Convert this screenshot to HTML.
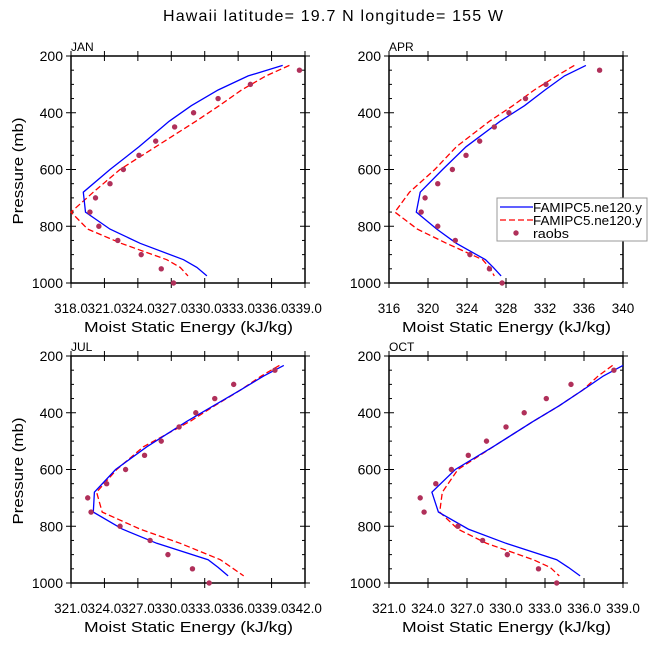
<!DOCTYPE html>
<html><head><meta charset="utf-8"><style>
body{margin:0;background:#fff;}
svg text{font-family:"Liberation Sans",sans-serif;fill:#000;}
</style></head><body>
<svg id="fig" width="648" height="649" viewBox="0 0 648 649" xmlns="http://www.w3.org/2000/svg">
<text x="163" y="21" font-size="16" textLength="340" lengthAdjust="spacing">Hawaii   latitude=  19.7 N  longitude=  155 W</text>
</svg>
<script>
const modelP=[233,270,320,375,430,520,600,680,750,810,860,918,945,975];
const obsP=[250,300,350,400,450,500,550,600,650,700,750,800,850,900,950,1000];
const yTicks=[200,400,600,800,1000];
const janBlue=[337.0,333.9,331.2,328.8,326.8,324.1,321.5,319.1,319.3,321.5,324.2,328.1,329.3,330.2];
const janRed=[337.6,335.5,333.3,331.3,329.2,325.6,322.4,320.0,318.0,319.5,322.5,326.6,327.8,328.5];
const janObs=[338.5,334.1,331.2,329.0,327.3,325.6,324.1,322.7,321.5,320.2,319.7,320.5,322.2,324.3,326.1,327.2];
const janTicks=["318.0","321.0","324.0","327.0","330.0","333.0","336.0","339.0"];
const aprBlue=[336.2,334.0,332.0,329.9,327.4,323.9,321.5,319.2,318.8,320.9,322.9,325.9,326.7,327.5];
const aprRed=[335.0,333.2,330.9,328.7,326.3,322.9,320.7,318.1,316.6,318.9,321.9,325.6,326.3,326.8];
const aprObs=[337.6,332.1,330.0,328.3,326.8,325.3,323.9,322.5,321.0,319.7,319.3,321.0,322.8,324.3,326.3,327.6];
const aprTicks=["316","320","324","328","332","336","340"];
const julBlue=[340.1,338.3,336.2,333.8,331.4,327.8,325.0,323.1,323.0,325.6,328.7,333.3,334.2,335.1];
const julRed=[339.7,338.1,336.2,333.9,331.7,327.5,325.1,323.3,323.8,327.2,330.8,334.4,335.4,336.5];
const julObs=[339.3,335.6,333.9,332.2,330.7,329.1,327.6,325.9,324.2,322.5,322.8,325.4,328.1,329.7,331.9,333.4];
const julTicks=["321.0","324.0","327.0","330.0","333.0","336.0","339.0","342.0"];
const octBlue=[339.0,337.5,335.9,334.1,332.1,329.0,326.1,324.3,324.8,327.1,330.0,333.9,334.8,335.7];
const octRed=[338.2,337.1,335.9,334.1,332.1,329.0,326.3,325.1,324.9,326.3,328.5,332.1,333.4,334.1];
const octObs=[338.3,335.0,333.1,331.4,330.0,328.5,327.1,325.8,324.6,323.4,323.7,326.3,328.2,330.1,332.5,333.9];
const octTicks=["321.0","324.0","327.0","330.0","333.0","336.0","339.0"];

const NS="http://www.w3.org/2000/svg";
const svg=document.getElementById('fig');
function mk(tag,attrs,parent){const e=document.createElementNS(NS,tag);for(const k in attrs)e.setAttribute(k,attrs[k]);(parent||svg).appendChild(e);return e;}

function panel(key,label,x0,x1,y0,y1,ticks,blue,red,obs){
  const g=mk('g',{});
  
  
  const xmin=parseFloat(ticks[0]),xmax=parseFloat(ticks[ticks.length-1]);
  const sx=v=>x0+(v-xmin)/(xmax-xmin)*(x1-x0);
  const sy=p=>y0+(p-200)/800*(y1-y0);
  for(let p=200;p<=1000;p+=50){
    const maj=(p%200===0);const y=sy(p);
    mk('line',{x1:x0-(maj?5:0),x2:x0+(maj?5:3),y1:y,y2:y,stroke:'#000','stroke-width':1},g);
    mk('line',{x1:x1+(maj?5:0),x2:x1-(maj?5:3),y1:y,y2:y,stroke:'#000','stroke-width':1},g);
  }
  yTicks.forEach(p=>{const t=mk('text',{x:x0-8,y:sy(p)+5,'font-size':14,'text-anchor':'end'},g);t.textContent=p;
    
    });
  ticks.forEach(s=>{const x=sx(parseFloat(s));
    mk('line',{x1:x,x2:x,y1:y0-5,y2:y0+5,stroke:'#000','stroke-width':1},g);
    mk('line',{x1:x,x2:x,y1:y1-5,y2:y1+5,stroke:'#000','stroke-width':1},g);
    const t=mk('text',{x:x,y:y1+30,'font-size':13.5,'text-anchor':'middle'},g);t.textContent=s;
    
    });
  const box=mk('rect',{x:x0,y:y0,width:x1-x0,height:y1-y0,fill:'none',stroke:'#000','stroke-width':1.5},g);
  
  
  const tl=mk('text',{x:x0,y:y0-5,'font-size':12},g);tl.textContent=label;
  
  
  const cx=(x0+x1)/2;
  const xt=mk('text',{x:cx-104,y:y1+49,'font-size':15,textLength:209,lengthAdjust:'spacingAndGlyphs'},g);xt.textContent='Moist Static Energy (kJ/kg)';
  
  
  if(x0<200){const yt=mk('text',{x:0,y:0,'font-size':15,textLength:107,lengthAdjust:'spacingAndGlyphs',transform:`translate(23,${(y0+y1)/2+55}) rotate(-90)`},g);yt.textContent='Pressure (mb)';
    
    }
  const pts=a=>a.map((v,i)=>sx(v).toFixed(1)+','+sy(modelP[i]).toFixed(1)).join(' ');
  const rl=mk('polyline',{points:pts(red),fill:'none',stroke:'#f00','stroke-width':1.3,'stroke-dasharray':'6,3'},g);
  
  
  const bl=mk('polyline',{points:pts(blue),fill:'none',stroke:'#00f','stroke-width':1.3},g);
  
  
  obs.forEach((v,i)=>{const c=mk('circle',{cx:sx(v),cy:sy(obsP[i]),r:2.7,fill:'#b0305a'},g);
    
    });
}
panel('jan','JAN',71,305,56,283,janTicks,janBlue,janRed,janObs);
panel('apr','APR',389,623,56,283,aprTicks,aprBlue,aprRed,aprObs);
panel('jul','JUL',71,305,356,583,julTicks,julBlue,julRed,julObs);
panel('oct','OCT',389,623,356,583,octTicks,octBlue,octRed,octObs);

const lg=mk('g',{});


mk('rect',{x:497,y:198,width:150,height:43,fill:'#fff',stroke:'#999','stroke-width':1},lg);
const l1=mk('line',{x1:500,x2:533,y1:207,y2:207,stroke:'#00f','stroke-width':1.3},lg);


const l2=mk('line',{x1:500,x2:533,y1:220,y2:220,stroke:'#f00','stroke-width':1.3,'stroke-dasharray':'6,3'},lg);


const l3=mk('circle',{cx:516,cy:233,r:2.7,fill:'#b0305a'},lg);


[['FAMIPC5.ne120.y',212,109],['FAMIPC5.ne120.y',225,109],['raobs',238,36]].forEach(([s,y,w])=>{const t=mk('text',{x:533,y:y,'font-size':13,textLength:w,lengthAdjust:'spacingAndGlyphs'},lg);t.textContent=s;
  
  });
</script>
</body></html>
